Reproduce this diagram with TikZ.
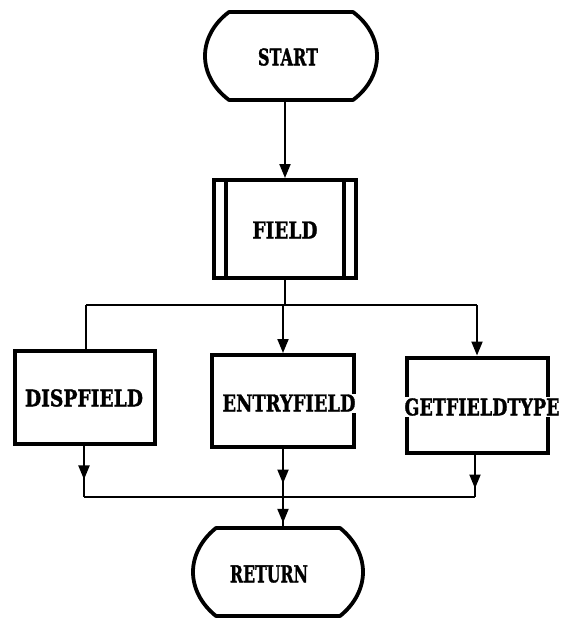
\documentclass[tikz,border=0pt]{standalone}
\usepackage{fontspec}
\usepackage{graphicx}
\newfontfamily\chartfont{DejaVu Serif}[BoldFeatures={FakeBold=1.5}]
\usetikzlibrary{arrows.meta,decorations.markings,calc}

% heavy slab-serif label, sized to a given width and a cap height of 17pt
\newcommand\chartlabel[2]{\resizebox{#1}{17pt}{\chartfont\bfseries #2}}

\tikzset{
  tip/.style={-{Triangle[length=14pt,width=11pt]}},
  conn/.style={line width=2pt},
  bus/.style={line width=2.6pt},
  proc/.style={draw, line width=4pt, inner sep=0pt},
  termline/.style={line width=3.8pt, line join=round},
  label/.style={inner sep=1pt, fill=white},
  midtip/.style={postaction={decorate}, decoration={markings,
      mark=at position #1 with {\arrow{Triangle[length=14pt,width=11pt]}}}},
}

\begin{document}
\begin{tikzpicture}[x=1pt,y=-1pt]
\useasboundingbox (0,0) rectangle (561,623);

% terminator outlines: flat top and bottom, bulging sides
\begin{scope}[shift={(291,56)}]
  \draw[termline] (-62,-44) -- (62,-44)
    .. controls (78,-32) and (86,-16) .. (86,0)
    .. controls (86,16) and (78,32) .. (62,44) -- (-62,44)
    .. controls (-78,32) and (-86,16) .. (-86,0)
    .. controls (-86,-16) and (-78,-32) .. (-62,-44) -- cycle;
\end{scope}
\node[minimum width=172pt, minimum height=88pt, inner sep=0pt] (start) at (291,56) {};
\node (starttext) at (288,57) {\chartlabel{60pt}{START}};

\begin{scope}[shift={(278,572)}]
  \draw[termline] (-62,-44) -- (62,-44)
    .. controls (77,-32) and (85,-16) .. (85,0)
    .. controls (85,16) and (77,32) .. (62,44) -- (-62,44)
    .. controls (-77,32) and (-85,16) .. (-85,0)
    .. controls (-85,-16) and (-77,-32) .. (-62,-44) -- cycle;
\end{scope}
\node[minimum width=170pt, minimum height=88pt, inner sep=0pt] (ret) at (278,572) {};
\node (rettext) at (269,574) {\chartlabel{78pt}{RETURN}};

% predefined process box
\node[proc, minimum width=142pt, minimum height=98pt] (field) at (285,229) {};
\draw[line width=3.5pt] ($(field.north west)+(14,0)$) -- ($(field.south west)+(14,0)$);
\draw[line width=3.5pt] ($(field.north east)+(-14,0)$) -- ($(field.south east)+(-14,0)$);
\node (fieldtext) at (285,230) {\chartlabel{65pt}{FIELD}};

% subroutine boxes
\node[proc, minimum width=140pt, minimum height=93pt] (disp) at (85,397) {};
\node (disptext) at (84,398) {\chartlabel{118pt}{DISPFIELD}};

\node[proc, minimum width=142pt, minimum height=92pt] (entry) at (283,401) {};
\node[label] (entrytext) at (289,403) {\chartlabel{133pt}{ENTRYFIELD}};

\node[proc, minimum width=141pt, minimum height=95pt] (getf) at (477,405) {};
\node[label] (getftext) at (482,407) {\chartlabel{155pt}{GETFIELDTYPE}};

% connectors
\draw[conn, tip] (start.south -| field.north) -- (field.north);

\coordinate (tl) at (86,305);
\coordinate (tr) at (477,305);
\draw[conn] (field.south) -- (field.south |- tl);
\draw[bus] (tl) -- (tr);
\draw[conn] (tl) -- (disp.north -| tl);
\draw[conn, tip] (entry.north |- tl) -- (entry.north);
\draw[conn, tip] (tr) -- (getf.north);

\coordinate (bl) at (84,497);
\coordinate (br) at (475,497);
\draw[conn, midtip=0.66] (disp.south -| bl) -- (bl);
\draw[conn, midtip=0.72] (entry.south) -- (entry.south |- bl);
\draw[conn, midtip=0.8] (getf.south -| br) -- (br);
\draw[bus] (bl) -- (br);
\draw[conn, midtip=0.84] (entry.south |- bl) -- (ret.north -| entry.south);
\end{tikzpicture}
\end{document}
